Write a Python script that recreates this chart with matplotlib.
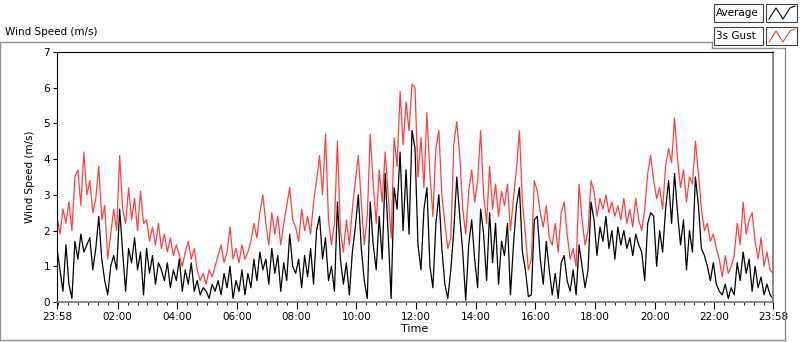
import numpy as np
import matplotlib
matplotlib.use('Agg')
import matplotlib.pyplot as plt
from matplotlib.lines import Line2D
from matplotlib.patches import Rectangle

# wind speed (m/s), one sample every 6 minutes starting at 23:58
gust = [2.4, 1.9, 2.6, 2.2, 2.8, 2.0, 3.5, 3.7, 2.7, 4.2,
        3.0, 3.4, 2.5, 2.9, 3.8, 2.3, 2.7, 1.2, 1.9, 2.6,
        2.0, 4.1, 2.6, 2.2, 3.2, 2.3, 2.9, 2.0, 3.1, 2.2,
        2.3, 1.7, 2.1, 1.6, 2.2, 1.5, 1.9, 1.4, 1.8, 1.3,
        1.6, 1.3, 1.0, 1.4, 1.7, 1.2, 1.5, 0.9, 0.6, 0.8,
        0.5, 0.9, 0.7, 1.0, 1.3, 1.6, 1.1, 1.4, 2.1, 1.2,
        1.5, 1.1, 1.6, 1.2, 1.4, 1.7, 2.2, 1.8, 2.5, 3.0,
        2.2, 1.6, 2.5, 1.9, 2.4, 1.6, 2.2, 2.7, 3.2, 2.3,
        2.1, 1.7, 2.6, 2.0, 2.4, 1.9, 2.8, 3.4, 4.1, 3.0,
        4.7, 2.3, 1.6, 2.2, 4.5, 2.0, 1.4, 2.3, 1.6, 2.6,
        3.4, 4.1, 2.8, 1.6, 2.4, 4.7, 3.3, 2.2, 3.7, 2.8,
        4.2, 3.0, 1.8, 4.6, 3.8, 5.9, 4.4, 5.6, 4.8, 6.1,
        6.0, 3.5, 4.6, 3.2, 5.3, 3.6, 2.4, 4.3, 4.8, 3.0,
        2.2, 1.5, 1.8, 4.4, 5.05, 4.1, 2.6, 1.9, 3.1, 3.7,
        2.8, 3.4, 4.8, 3.0, 2.2, 3.8, 2.6, 3.3, 2.4, 3.1,
        2.7, 3.3, 2.0, 2.9, 3.7, 4.8, 2.8, 1.9, 0.9, 1.2,
        3.4, 3.1, 2.5, 2.1, 2.7, 1.8, 1.6, 2.2, 1.4, 2.5,
        2.8, 1.9, 1.2, 1.5, 1.0, 3.3, 2.3, 1.6, 2.0, 3.4,
        3.1, 2.4, 2.9, 2.6, 3.0, 2.5, 2.8, 2.4, 2.7, 2.3,
        2.9, 2.2, 2.6, 2.1, 2.9, 2.3, 2.0, 2.6, 3.6, 4.1,
        3.4, 2.9, 3.2, 2.6, 3.8, 4.3, 3.9, 5.15, 4.0, 3.2,
        3.7, 2.8, 3.5, 3.3, 4.5, 3.6, 2.6, 2.0, 2.2, 1.7,
        1.9, 1.5, 1.2, 0.7, 1.3, 0.8, 1.0, 1.3, 2.2, 1.6,
        2.8, 1.9, 2.3, 2.5, 1.7, 1.2, 1.8, 1.0, 1.4, 0.9, 0.8]

average = [1.5, 0.9, 0.3, 1.6, 0.5, 0.1, 1.7, 1.2, 1.9, 1.4,
           1.6, 1.8, 0.9, 1.5, 2.4, 1.2, 0.6, 0.2, 1.0, 1.3,
           0.9, 2.6, 1.4, 0.3, 1.5, 1.1, 1.8, 0.9, 1.4, 0.2,
           1.5, 0.8, 1.3, 0.5, 1.1, 0.9, 0.6, 1.1, 0.4, 0.9,
           0.6, 1.2, 0.3, 0.9, 0.5, 1.1, 0.3, 0.6, 0.2, 0.4,
           0.3, 0.1, 0.5, 0.3, 0.6, 0.2, 0.8, 0.4, 1.0, 0.1,
           0.6, 0.3, 0.9, 0.2, 0.8, 0.4, 1.2, 0.6, 1.4, 0.9,
           1.2, 0.5, 1.5, 0.8, 1.3, 0.3, 1.1, 0.6, 1.9, 1.0,
           0.8, 1.2, 0.4, 1.3, 0.7, 1.5, 0.5, 2.0, 2.4, 1.2,
           1.8, 0.6, 1.0, 0.3, 2.8, 1.2, 0.5, 1.1, 0.2, 1.4,
           2.1, 3.0, 1.5, 0.6, 0.1, 2.8, 1.6, 0.9, 2.4, 1.2,
           3.6, 1.9, 0.1, 3.2, 2.6, 4.2, 2.0, 3.7, 1.9, 4.8,
           4.3, 1.6, 0.9, 2.6, 3.2, 1.0, 0.4, 2.2, 3.0, 1.5,
           0.5, 0.1, 0.9, 2.0, 3.5, 2.4, 1.4, 0.05, 1.6, 2.3,
           1.2, 0.4, 2.6, 1.9, 0.6, 2.5, 1.1, 2.2, 0.5, 1.7,
           1.3, 2.2, 0.2, 1.6, 2.7, 3.2, 1.4, 0.9, 0.15, 0.2,
           2.3, 2.4, 1.2, 0.5, 1.7, 0.9, 0.2, 0.8, 0.1, 1.1,
           1.3, 0.6, 0.3, 0.9, 0.2, 1.6, 1.0, 0.4, 0.9, 2.8,
           2.3, 1.3, 2.1, 1.7, 2.4, 1.5, 2.0, 1.2, 2.1, 1.6,
           2.0, 1.5, 1.8, 1.3, 1.9, 1.6, 1.4, 0.6, 2.2, 2.5,
           2.4, 1.0, 2.0, 1.4, 2.6, 3.4, 2.2, 3.6, 2.5, 1.6,
           2.3, 0.9, 2.0, 1.4, 3.5, 2.7, 1.5, 1.3, 1.0, 0.6,
           1.1, 0.5, 0.3, 0.2, 0.5, 0.1, 0.4, 0.2, 1.1, 0.6,
           1.4, 0.8, 1.2, 0.3, 1.0, 0.4, 0.7, 0.2, 0.5, 0.2, 0.1]

tick_labels = ['23:58', '02:00', '04:00', '06:00', '08:00', '10:00', '12:00',
               '14:00', '16:00', '18:00', '20:00', '22:00', '23:58']
tick_minutes = [0, 122, 242, 362, 482, 602, 722, 842, 962, 1082, 1202, 1322, 1440]

t = np.arange(len(gust)) * 6.0

plt.rcParams['font.family'] = ['DejaVu Sans']
fig = plt.figure(figsize=(8, 3.42), dpi=100)
ax = fig.add_axes([57/800, 1 - 302/342, 716/800, 250/342])

ax.plot(t, gust, color='#ff4040', lw=0.9)
ax.plot(t, average, color='black', lw=0.9)

ax.set_xlim(0, 1440)
ax.set_ylim(0, 7)
ax.set_yticks(range(8))
ax.set_xticks(tick_minutes)
ax.set_xticklabels(tick_labels)
ax.set_xticks(np.arange(2, 1440, 20), minor=True)
ax.tick_params(axis='both', labelsize=7.5, direction='out', pad=2)
ax.tick_params(axis='x', which='major', length=5)
ax.tick_params(axis='x', which='minor', length=2.5)
ax.tick_params(axis='y', length=3)
ax.set_ylabel('Wind Speed (m/s)', fontsize=7.5, labelpad=6)
ax.set_xlabel('Time', fontsize=8, labelpad=2)
for s in ['top', 'left']:
    ax.spines[s].set_color('black')
for s in ['bottom', 'right']:
    ax.spines[s].set_color('#808080')
    ax.spines[s].set_linewidth(1.3)


def fx(px):
    return px / 800


def fy(py):
    return 1 - py / 342


# outer panel frame
frame = [((0, 42), (712, 42)), ((712, 42), (712, 48)), ((712, 48), (785, 48)),
         ((785, 48), (785, 340)), ((785, 340), (0, 340)), ((0, 340), (0, 42))]
for (x0, y0), (x1, y1) in frame:
    fig.add_artist(Line2D([fx(x0), fx(x1)], [fy(y0), fy(y1)], color='#909090', lw=1))

fig.text(fx(5), fy(32), 'Wind Speed (m/s)', fontsize=7.5, va='center', ha='left')

# legend
for row, (name, col) in enumerate([('Average', 'black'), ('3s Gust', '#ff4040')]):
    top = 4 + row * 23
    fig.add_artist(Rectangle((fx(714), fy(top + 18)), fx(49), 18/342, fill=False,
                             ec='#404040', lw=0.8))
    fig.text(fx(716), fy(top + 9), name, fontsize=7.5, va='center', ha='left')
    fig.add_artist(Rectangle((fx(766), fy(top + 18)), fx(31), 18/342, fill=False,
                             ec='#404040', lw=0.8))
    zx = [769, 776, 783, 790, 795]
    zy = [top + 15, top + 4, top + 15, top + 4, top + 2]
    fig.add_artist(Line2D([fx(v) for v in zx], [fy(v) for v in zy], color=col, lw=0.8))

fig.savefig('out.png', dpi=100)
